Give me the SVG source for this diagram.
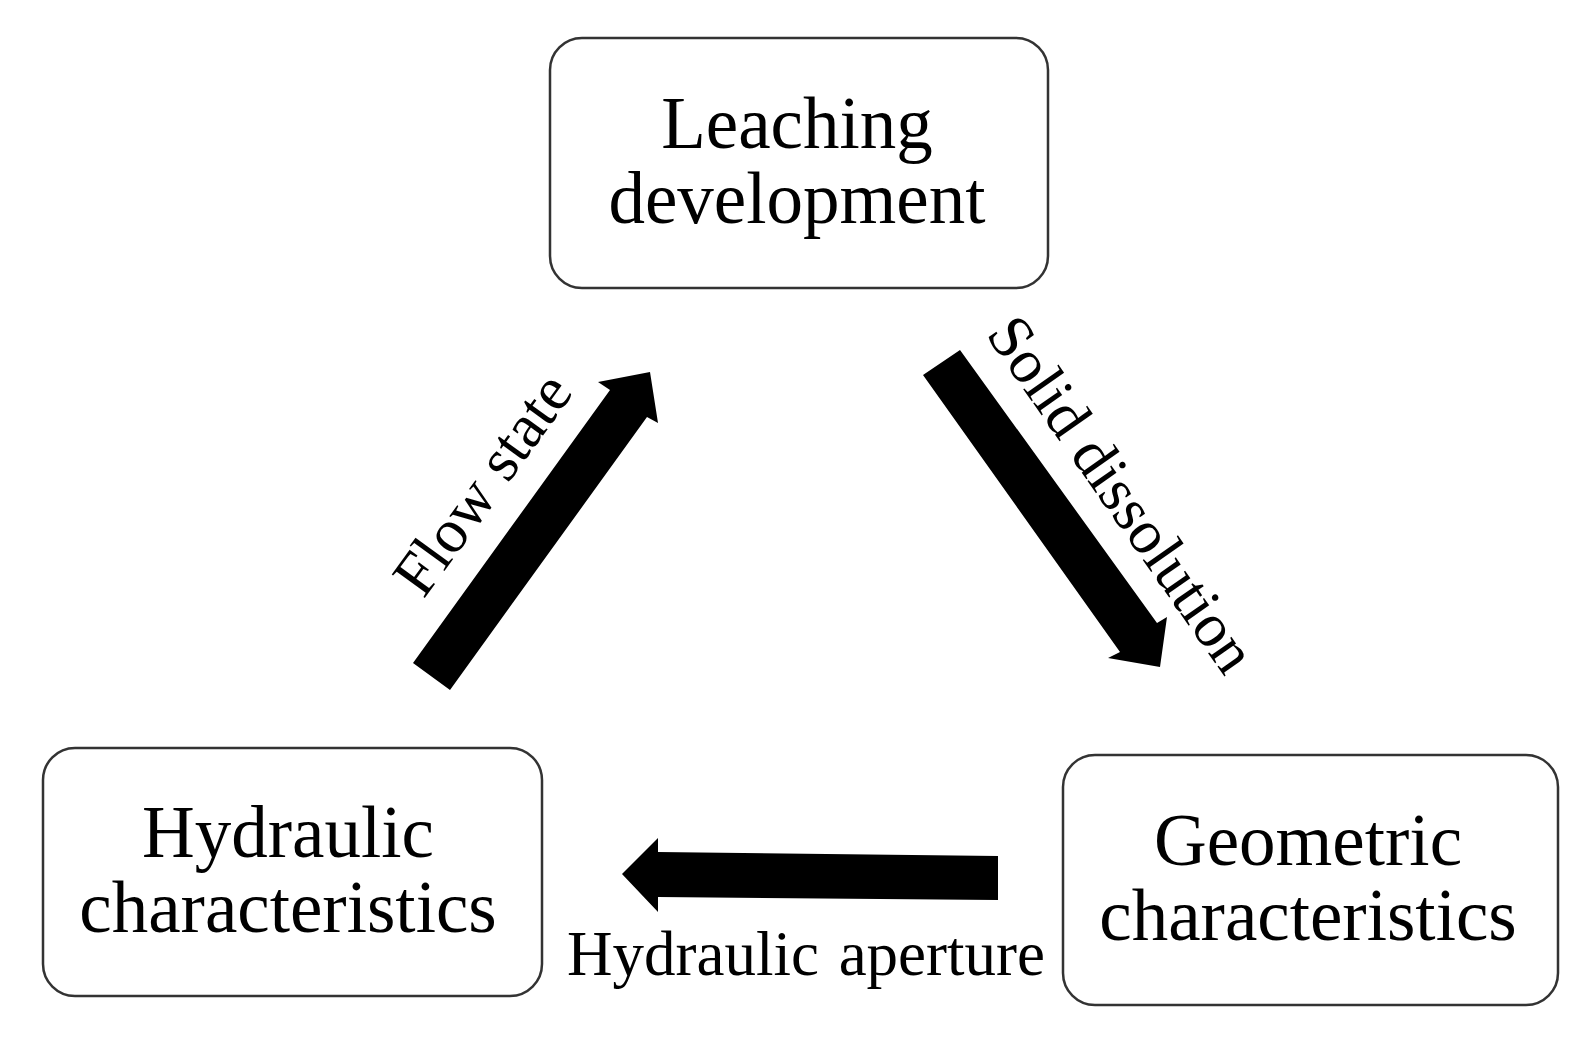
<svg xmlns="http://www.w3.org/2000/svg" width="1596" height="1041" viewBox="0 0 1596 1041">
<style>
.box{fill:#fff;stroke:#333;stroke-width:2.5}
.nt{font-family:"Liberation Serif","Times New Roman",serif;font-size:73px;fill:#000;text-anchor:middle}
.lb{font-family:"Liberation Serif","Times New Roman",serif;font-size:62px;fill:#000}
.ar{fill:#000}
</style>
<rect width="1596" height="1041" fill="#fff"/>
<g id="node-leaching">
<rect class="box" x="550" y="38" width="498" height="250" rx="32"/>
<text class="nt" x="797" y="148">Leaching</text>
<text class="nt" x="797" y="223">development</text>
</g>
<g id="node-hydraulic">
<rect class="box" x="43" y="748" width="499" height="248" rx="32"/>
<text class="nt" x="288" y="857">Hydraulic</text>
<text class="nt" x="288" y="932">characteristics</text>
</g>
<g id="node-geometric">
<rect class="box" x="1063" y="755" width="495" height="250" rx="32"/>
<text class="nt" x="1308" y="865">Geometric</text>
<text class="nt" x="1308" y="940">characteristics</text>
</g>
<g id="connectors">
<polygon class="ar" points="413,663 610,390 598,382 650,372 658,423 647,417 450,690"/>
<text class="lb" text-anchor="middle" transform="translate(499,496) rotate(-54)">Flow state</text>
<polygon class="ar" points="923,375 1120,652 1108,658 1160,667 1167,617 1157,623 960,350"/>
<text class="lb" text-anchor="middle" transform="translate(1105,506) rotate(55)">Solid dissolution</text>
<polygon class="ar" points="998,856 658,852 658,838 622,874 658,912 658,897 998,900"/>
<text class="lb" x="567" y="975" style="font-size:63px;word-spacing:4px">Hydraulic aperture</text>
</g>
</svg>
